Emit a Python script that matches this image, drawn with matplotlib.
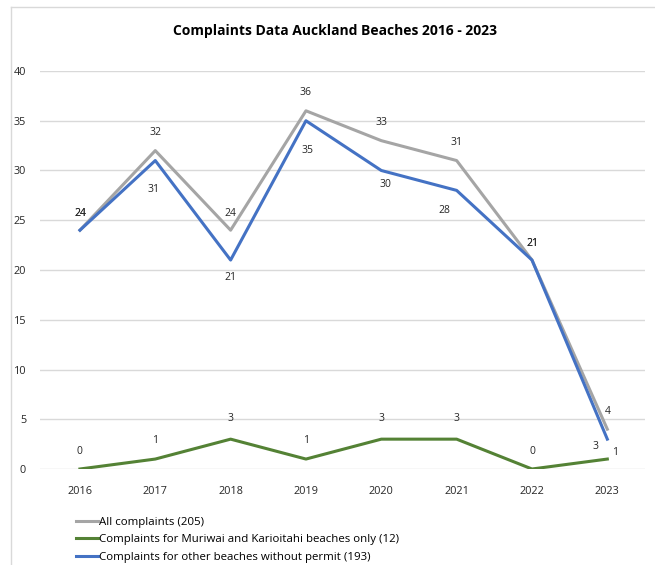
import matplotlib.pyplot as plt
import numpy as np

years = ['2016', '2017', '2018', '2019', '2020', '2021', '2022', '2023']
all_complaints = [24, 32, 24, 36, 33, 31, 21, 4]
muriwai = [0, 1, 3, 1, 3, 3, 0, 1]
other_beaches = [24, 31, 21, 35, 30, 28, 21, 3]

# label offsets in pixels (dx, dy)
all_off = [(0, 17), (0, 18), (0, 17), (0, 18), (0, 18), (0, 18), (0, 17), (0, 18)]
other_off = [(0, 17), (-2, -29), (0, -17), (2, -30), (4, -14), (-12, -20), (0, 17), (-12, -7)]
muriwai_off = [(0, 18), (0, 19), (0, 21), (0, 19), (0, 21), (0, 21), (0, 18), (8, 7)]

plt.rcParams['font.family'] = ['Open Sans', 'DejaVu Sans']

fig = plt.figure(figsize=(6.55, 5.65), dpi=100)
ax = fig.add_axes([40/655, 1-469/565, 605/655, 398/565])

X = np.arange(len(years))
ax.plot(X, all_complaints, color='#A5A5A5', lw=2.2, label='All complaints (205)', zorder=3)
ax.plot(X, muriwai, color='#548235', lw=2.2, label='Complaints for Muriwai and Karioitahi beaches only (12)', zorder=3)
ax.plot(X, other_beaches, color='#4472C4', lw=2.2, label='Complaints for other beaches without permit (193)', zorder=4)

def label_series(vals, offs):
    for x, v, (dx, dy) in zip(X, vals, offs):
        ax.annotate(str(v), xy=(x, v), xytext=(dx, dy), textcoords='offset pixels',
                    ha='center', va='center', fontsize=7.5, color='#262626')

label_series(all_complaints, all_off)
label_series(other_beaches, other_off)
label_series(muriwai, muriwai_off)

ax.set_xlim(-0.53, 7.5)
ax.set_ylim(0, 40)
ax.set_yticks(range(0, 41, 5))
ax.set_xticks(X)
ax.set_xticklabels(years)
ax.tick_params(length=0, labelsize=7.8, colors='#262626')
ax.tick_params(axis='x', pad=12)
ax.tick_params(axis='y', pad=10)
ax.grid(axis='y', color='#D9D9D9', lw=1)
ax.set_axisbelow(True)
for s in ax.spines.values():
    s.set_visible(False)

fig.text(335/655, 1-31/565, 'Complaints Data Auckland Beaches 2016 - 2023',
         ha='center', va='center', fontsize=10, fontweight='bold', color='black')

fig.legend(loc='upper left', bbox_to_anchor=(76/655, 1-517/565), frameon=False,
           fontsize=8.25, handlelength=1.9, handletextpad=0.1, labelspacing=0.55,
           borderaxespad=0, borderpad=0)

# outer chart frame
fig.add_artist(plt.Line2D([11/655, 11/655], [0, 1-7/565], color='#D9D9D9', lw=1))
fig.add_artist(plt.Line2D([11/655, 1], [1-7/565, 1-7/565], color='#D9D9D9', lw=1))

fig.savefig('out.png', dpi=100)
